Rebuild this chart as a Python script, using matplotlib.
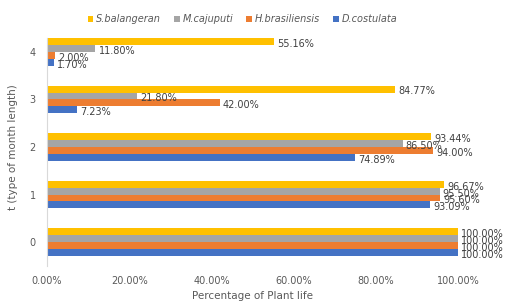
import numpy as np
import matplotlib.pyplot as plt
from matplotlib.ticker import FuncFormatter

categories = ['0', '1', '2', '3', '4']
series_names = ['S.balangeran', 'M.cajuputi', 'H.brasiliensis', 'D.costulata']
s_balangeran = [100.00, 96.67, 93.44, 84.77, 55.16]
m_cajuputi = [100.00, 95.50, 86.50, 21.80, 11.80]
h_brasiliensis = [100.00, 95.60, 94.00, 42.00, 2.00]
d_costulata = [100.00, 93.09, 74.89, 7.23, 1.70]
colors = ['#FFC000', '#A5A5A5', '#ED7D31', '#4472C4']

fig = plt.figure(figsize=(5.05, 3.05), dpi=100)
ax = fig.add_axes([0.093, 0.128, 0.814, 0.78])

y = np.arange(len(categories))
h = 0.145
all_series = [s_balangeran, m_cajuputi, h_brasiliensis, d_costulata]
offsets = [1.5 * h, 0.5 * h, -0.5 * h, -1.5 * h]
handles = []
for vals, name, c, off in zip(all_series, series_names, colors, offsets):
    b = ax.barh(y + off, vals, height=h, color=c, label=name)
    handles.append(b)
    for yi, v in zip(y, vals):
        ax.text(v + 0.8, yi + off - 0.05, f'{v:.2f}%', fontsize=7, color='#404040',
                va='center', ha='left', clip_on=False)

ax.set_xlim(0, 100)
ax.set_ylim(-0.5, 4.5)
ax.set_yticks(y)
ax.set_yticklabels(categories)
ax.set_xticks([0, 20, 40, 60, 80, 100])
ax.xaxis.set_major_formatter(FuncFormatter(lambda v, p: f'{v:.2f}%'))
ax.tick_params(axis='both', length=0, labelsize=7, colors='#595959', pad=8)
ax.tick_params(axis='x', pad=7)
for sp in ['top', 'right', 'bottom']:
    ax.spines[sp].set_visible(False)
ax.spines['left'].set_color('#D9D9D9')
ax.spines['left'].set_bounds(-0.5, 4.3)

ax.set_xlabel('Percentage of Plant life', fontsize=7.5, color='#595959', labelpad=4)
ax.set_ylabel('t (type of month length)', fontsize=7.5, color='#595959', labelpad=8)

leg = fig.legend(handles=handles, loc='center', bbox_to_anchor=(0.48, 0.937), ncol=4,
                 frameon=False, handlelength=0.6, handleheight=0.6,
                 handletextpad=0.3, columnspacing=1.3,
                 prop={'style': 'italic', 'size': 7})
for t in leg.get_texts():
    t.set_color('#595959')

fig.savefig('out.png', dpi=100)
